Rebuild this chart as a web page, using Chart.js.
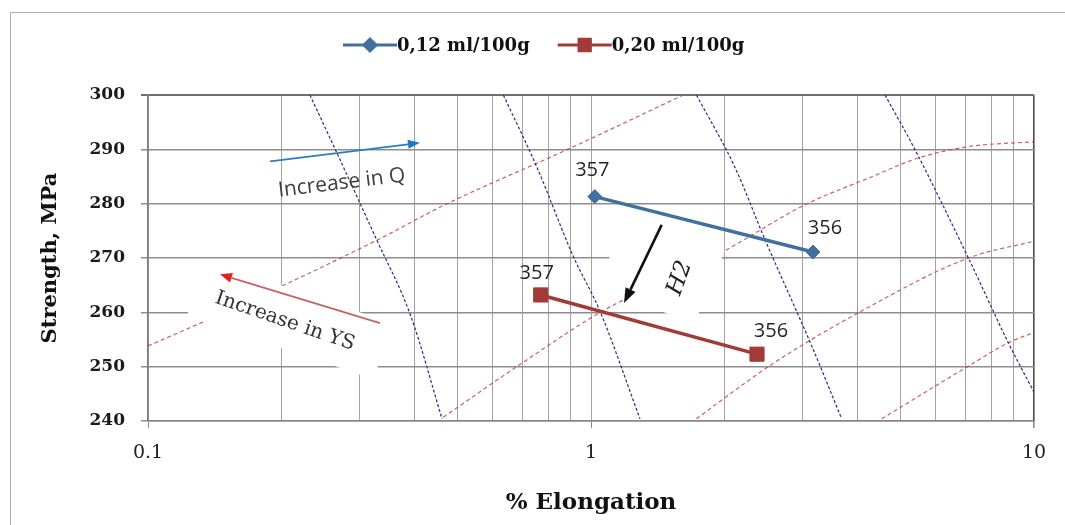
<!DOCTYPE html>
<html>
<head>
<meta charset="utf-8">
<title>Strength vs elongation</title>
<script src="https://cdn.jsdelivr.net/npm/chart.js@4.4.1/dist/chart.umd.min.js"></script>
<style>
  html, body { margin: 0; padding: 0; background: #fff; }
  #wrap { position: relative; width: 1065px; height: 525px; }
</style>
</head>
<body>
<div id="wrap"><canvas id="chart" width="1065" height="525"></canvas></div>
<script>
// === MEASURED ALLOYS ===
const alloyLabels = ["357", "356"];
const elongationLowH2 = [1.02, 3.17];
const strengthLowH2 = [281.3, 271.1];
const elongationHighH2 = [0.77, 2.37];
const strengthHighH2 = [263.2, 252.3];

// === AXIS TICKS ===
const elongationTicks = [0.1, 0.2, 0.3, 0.4, 0.5, 0.6, 0.7, 0.8, 0.9, 1, 2, 3, 4, 5, 6, 7, 8, 9, 10];
const elongationLabels = [0.1, 1, 10];
const strengthMin = 240;
const strengthMax = 300;
const strengthStep = 10;

// === ISO-QUALITY LINES (blue dashed), [elongation, strength] ===
const qualityLine1 = [[0.232, 300], [0.265, 289.9], [0.328, 273.4], [0.392, 259.3], [0.461, 240.4]];
const qualityLine2 = [[0.634, 300], [0.754, 286.8], [0.912, 270.3], [1.048, 260.2], [1.29, 240.4]];
const qualityLine3 = [[1.73, 300], [2.11, 286.8], [2.47, 273.4], [3.15, 253.8], [3.68, 240.4]];
const qualityLine4 = [[4.61, 300], [5.39, 289.9], [7.11, 270.0], [8.75, 254.4], [10, 245.3]];

// === ISO-YIELD CURVES (red dashed) ===
const yieldCurve1 = [[0.1, 253.8], [0.1345, 258.4], [0.2, 264.8], [0.331, 273.4], [0.468, 279.8], [0.881, 289.9], [1.616, 300]];
const yieldCurve2 = [[0.464, 240.7], [0.703, 250.8], [1.05, 260], [1.99, 271.2], [3.04, 279.8], [4.23, 284.7], [5.48, 288.4], [7.11, 290.5], [10, 291.4]];
const yieldCurve3 = [[1.73, 240.4], [2.11, 245.6], [2.6, 250.8], [4.01, 259.9], [7.11, 270.0], [10, 273.1]];
const yieldCurve4 = [[4.53, 240.4], [7.11, 250.1], [8.75, 254.4], [10, 256.3]];

const BLUE = "#41709f";
const RED = "#a23b37";

// label offsets (px) from each alloy point
const lowH2LabelOffsets = [[-2.5, -26], [12, -23.5]];
const highH2LabelOffsets = [[-4, -21.5], [14, -22.5]];

// white backing boxes behind the rotated captions (centre in data units, size in px)
const captionBoxes = [
    { x: 0.209, y: 258.7, w: 197, h: 59, angle: 19 },
    { x: 1.442, y: 268.2, w: 104, h: 80, angle: 22.5 }
];

const arrows = [
    { from: [0.1886, 287.8], to: [0.411, 291.2], color: "#2f7dbd", head: "#1f77c4", width: 1.8, headLength: 12, headWidth: 9 },
    { from: [0.334, 258.0], to: [0.1454, 267.0], color: "#c46464", head: "#e3201b", width: 1.8, headLength: 12, headWidth: 10 },
    { from: [1.444, 276.1], to: [1.187, 261.7], color: "#111", head: "#111", width: 2.6, headLength: 15, headWidth: 11 }
];

const captions = [
    { text: "Increase in Q", x: 0.2737, y: 283.8, angle: -7, font: '21px "Open Sans"', color: "#3d3d3d" },
    { text: "Increase in YS", x: 0.2038, y: 258.35, angle: 19, font: '20px "DejaVu Serif"', color: "#333" },
    { text: "H2", x: 1.588, y: 266.3, angle: -70, font: 'italic 23px "DejaVu Serif"', color: "#222" }
];

const zip = (xs, ys) => xs.map((x, i) => ({ x: x, y: ys[i] }));
const toPoints = pairs => pairs.map(p => ({ x: p[0], y: p[1] }));

function guide(pairs, color, dash) {
    return {
        data: toPoints(pairs),
        borderColor: color,
        borderWidth: 1.2,
        borderDash: dash,
        pointRadius: 0,
        cubicInterpolationMode: "monotone",
        fill: false
    };
}

const datasets = [
    {
        label: "0,12 ml/100g",
        data: zip(elongationLowH2, strengthLowH2),
        borderColor: BLUE, backgroundColor: BLUE,
        borderWidth: 3.5,
        pointStyle: "rectRot", pointRadius: 7, pointBorderWidth: 1,
        labelOffsets: lowH2LabelOffsets
    },
    {
        label: "0,20 ml/100g",
        data: zip(elongationHighH2, strengthHighH2),
        borderColor: RED, backgroundColor: RED,
        borderWidth: 3.5,
        pointStyle: "rect", pointRadius: 10, pointBorderWidth: 1,
        labelOffsets: highH2LabelOffsets
    },
    guide(qualityLine1, "#2a2d80", [3, 2]),
    guide(qualityLine2, "#2a2d80", [3, 2]),
    guide(qualityLine3, "#2a2d80", [3, 2]),
    guide(qualityLine4, "#2a2d80", [3, 2]),
    guide(yieldCurve1, "rgba(190,70,70,0.85)", [4, 3]),
    guide(yieldCurve2, "rgba(190,70,70,0.85)", [4, 3]),
    guide(yieldCurve3, "rgba(190,70,70,0.85)", [4, 3]),
    guide(yieldCurve4, "rgba(190,70,70,0.85)", [4, 3])
];
const SERIES_COUNT = 2;

function drawArrow(ctx, x1, y1, x2, y2, a) {
    const ang = Math.atan2(y2 - y1, x2 - x1);
    const bx = x2 - a.headLength * Math.cos(ang);
    const by = y2 - a.headLength * Math.sin(ang);
    const hw = a.headWidth / 2;
    ctx.save();
    ctx.strokeStyle = a.color;
    ctx.lineWidth = a.width;
    ctx.beginPath();
    ctx.moveTo(x1, y1);
    ctx.lineTo(bx, by);
    ctx.stroke();
    ctx.fillStyle = a.head;
    ctx.beginPath();
    ctx.moveTo(x2, y2);
    ctx.lineTo(bx + hw * Math.sin(ang), by - hw * Math.cos(ang));
    ctx.lineTo(bx - hw * Math.sin(ang), by + hw * Math.cos(ang));
    ctx.closePath();
    ctx.fill();
    ctx.restore();
}

// boxes go on top of the guide curves but under the two alloy series
const captionBoxPlugin = {
    id: "captionBoxes",
    afterDatasetDraw(chart, args) {
        if (args.index !== SERIES_COUNT) return;
        const ctx = chart.ctx;
        const sx = chart.scales.x, sy = chart.scales.y;
        ctx.save();
        ctx.fillStyle = "#ffffff";
        captionBoxes.forEach(b => {
            ctx.save();
            ctx.translate(sx.getPixelForValue(b.x), sy.getPixelForValue(b.y));
            ctx.rotate(b.angle * Math.PI / 180);
            ctx.fillRect(-b.w / 2, -b.h / 2, b.w, b.h);
            ctx.restore();
        });
        ctx.restore();
    }
};

const annotationPlugin = {
    id: "annotations",
    beforeDraw(chart) {
        // thin frame round the whole figure
        const ctx = chart.ctx;
        ctx.save();
        ctx.strokeStyle = "#a9b2bb";
        ctx.lineWidth = 1;
        ctx.beginPath();
        ctx.moveTo(10.5, chart.height);
        ctx.lineTo(10.5, 12.5);
        ctx.lineTo(chart.width, 12.5);
        ctx.stroke();
        ctx.restore();
    },
    afterDatasetsDraw(chart) {
        const ctx = chart.ctx;
        const sx = chart.scales.x, sy = chart.scales.y;

        arrows.forEach(a => {
            drawArrow(ctx,
                sx.getPixelForValue(a.from[0]), sy.getPixelForValue(a.from[1]),
                sx.getPixelForValue(a.to[0]), sy.getPixelForValue(a.to[1]), a);
        });

        captions.forEach(c => {
            ctx.save();
            ctx.translate(sx.getPixelForValue(c.x), sy.getPixelForValue(c.y));
            ctx.rotate(c.angle * Math.PI / 180);
            ctx.font = c.font;
            ctx.fillStyle = c.color;
            ctx.textAlign = "center";
            ctx.textBaseline = "middle";
            ctx.fillText(c.text, 0, 0);
            ctx.restore();
        });

        // alloy names next to each point
        ctx.save();
        ctx.font = '20px "Open Sans"';
        ctx.fillStyle = "#262626";
        ctx.textAlign = "center";
        ctx.textBaseline = "middle";
        for (let d = 0; d < SERIES_COUNT; d++) {
            const meta = chart.getDatasetMeta(d);
            const offs = chart.data.datasets[d].labelOffsets;
            meta.data.forEach((pt, i) => {
                ctx.fillText(alloyLabels[i], pt.x + offs[i][0], pt.y + offs[i][1]);
            });
        }
        ctx.restore();
    },
    afterDraw(chart) {
        // legend: line + marker, then bold label
        const ctx = chart.ctx;
        let x = 343;
        const y = 45;
        const lineLen = 54;
        ctx.save();
        ctx.font = 'bold 18px "DejaVu Serif"';
        ctx.textBaseline = "middle";
        ctx.textAlign = "left";
        for (let d = 0; d < SERIES_COUNT; d++) {
            const ds = chart.data.datasets[d];
            ctx.strokeStyle = ds.borderColor;
            ctx.lineWidth = 3;
            ctx.beginPath();
            ctx.moveTo(x, y);
            ctx.lineTo(x + lineLen, y);
            ctx.stroke();
            ctx.fillStyle = ds.backgroundColor;
            Chart.helpers.drawPoint(ctx, {
                pointStyle: ds.pointStyle,
                radius: ds.pointStyle === "rect" ? 8 : 6,
                rotation: 0,
                borderWidth: 1
            }, x + lineLen / 2, y);
            ctx.fillStyle = "#111";
            ctx.fillText(ds.label, x + lineLen, y + 1);
            x += lineLen + ctx.measureText(ds.label).width + 28;
        }
        ctx.restore();
    }
};

new Chart(document.getElementById("chart"), {
    type: "line",
    data: { datasets: datasets },
    options: {
        responsive: false,
        animation: false,
        devicePixelRatio: 1,
        layout: { padding: { top: 95, right: 31, bottom: 0, left: 0 } },
        plugins: {
            legend: { display: false },
            tooltip: { enabled: false }
        },
        scales: {
            x: {
                type: "logarithmic",
                min: 0.1,
                max: 10,
                afterBuildTicks: scale => {
                    scale.ticks = elongationTicks.map(v => ({ value: v }));
                },
                afterFit: scale => { scale.height = 104; },
                ticks: {
                    autoSkip: false,
                    maxRotation: 0,
                    padding: 14,
                    color: "#222",
                    font: { family: "DejaVu Serif", size: 19 },
                    callback: value => elongationLabels.includes(value) ? String(value) : ""
                },
                grid: {
                    color: c => c.tick && c.tick.value === 10 ? "#4a4a4a" : "#a2a2a2",
                    lineWidth: c => c.tick && c.tick.value === 10 ? 1.6 : 1,
                    tickLength: 7,
                    tickColor: c => c.tick && elongationLabels.includes(c.tick.value) ? "#8a8a8a" : "rgba(0,0,0,0)"
                },
                border: { color: "#858585", width: 1.5 },
                title: {
                    display: true,
                    text: "% Elongation",
                    color: "#111",
                    font: { family: "DejaVu Serif", size: 23, weight: "bold" },
                    padding: { top: 0, bottom: 8 }
                }
            },
            y: {
                type: "linear",
                min: strengthMin,
                max: strengthMax,
                afterFit: scale => { scale.width = 148; },
                ticks: {
                    stepSize: strengthStep,
                    padding: 16,
                    color: "#1a1a1a",
                    font: { family: "DejaVu Serif", size: 17, weight: "bold" }
                },
                grid: {
                    color: c => c.tick && c.tick.value === strengthMax ? "#6f6f6f" : "#8d8d8d",
                    lineWidth: c => c.tick && c.tick.value === strengthMax ? 2 : 1.5,
                    tickLength: 7
                },
                border: { color: "#7a7a7a", width: 1.5 },
                title: {
                    display: true,
                    text: "Strength, MPa",
                    color: "#111",
                    font: { family: "DejaVu Serif", size: 21, weight: "bold" },
                    padding: { top: 38, bottom: 0 }
                }
            }
        }
    },
    plugins: [captionBoxPlugin, annotationPlugin]
});
</script>
</body>
</html>
